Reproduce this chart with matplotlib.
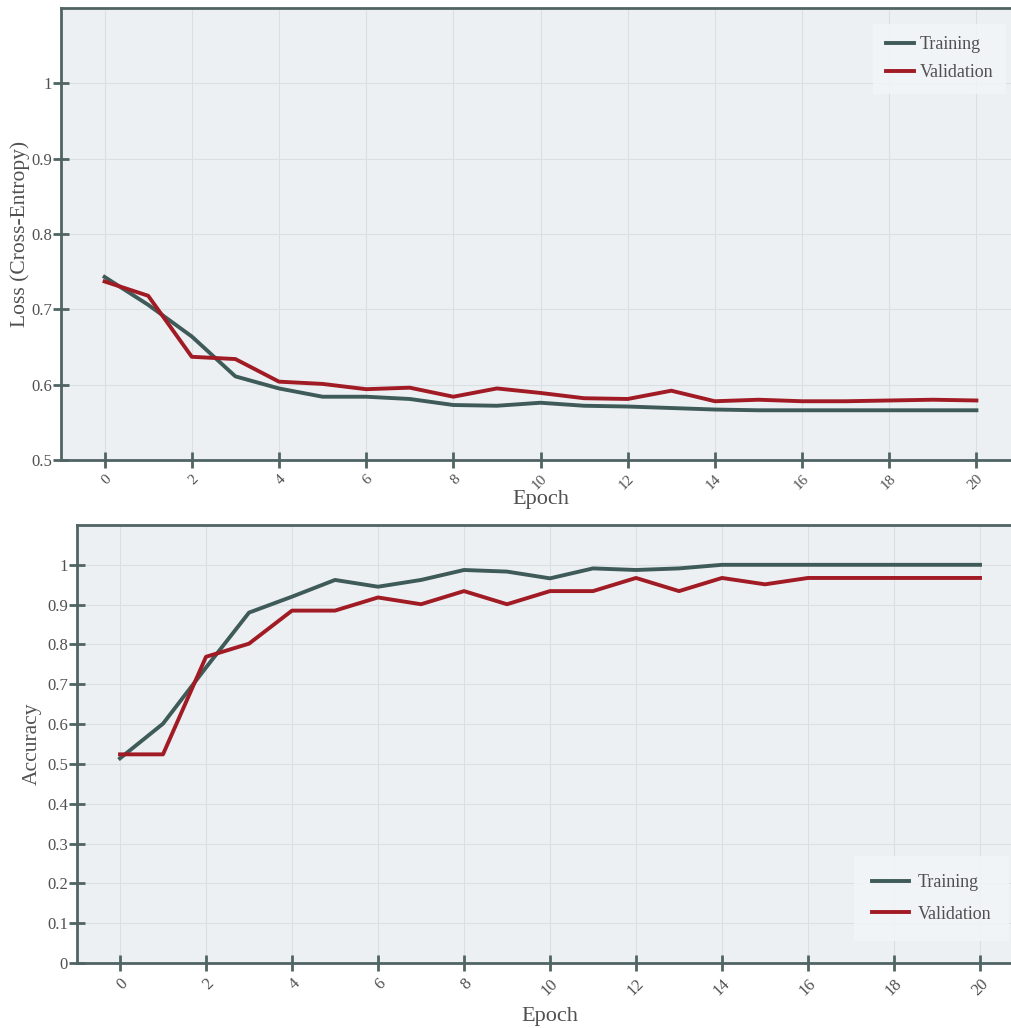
import matplotlib.pyplot as plt

epochs = list(range(21))

loss_train = [0.743, 0.706, 0.664, 0.611, 0.595, 0.584, 0.584, 0.581, 0.573, 0.572, 0.576,
              0.572, 0.571, 0.569, 0.567, 0.566, 0.566, 0.566, 0.566, 0.566, 0.566]
loss_val = [0.737, 0.718, 0.637, 0.634, 0.604, 0.601, 0.594, 0.596, 0.584, 0.595, 0.589,
            0.582, 0.581, 0.592, 0.578, 0.580, 0.578, 0.578, 0.579, 0.580, 0.579]

acc_train = [0.514, 0.601, 0.742, 0.880, 0.920, 0.962, 0.945, 0.962, 0.987, 0.983, 0.966,
             0.991, 0.987, 0.991, 1.0, 1.0, 1.0, 1.0, 1.0, 1.0, 1.0]
acc_val = [0.524, 0.524, 0.769, 0.802, 0.885, 0.885, 0.918, 0.901, 0.934, 0.901, 0.934,
           0.934, 0.967, 0.934, 0.967, 0.951, 0.967, 0.967, 0.967, 0.967, 0.967]

loss_ticks = [0.5, 0.6, 0.7, 0.8, 0.9, 1.0]
loss_labels = ['0.5', '0.6', '0.7', '0.8', '0.9', '1']
acc_ticks = [0, 0.1, 0.2, 0.3, 0.4, 0.5, 0.6, 0.7, 0.8, 0.9, 1.0]
acc_labels = ['0', '0.1', '0.2', '0.3', '0.4', '0.5', '0.6', '0.7', '0.8', '0.9', '1']
x_ticks = list(range(0, 21, 2))

plt.rcParams['font.family'] = ['Liberation Serif', 'DejaVu Serif']

c_train = '#3f5b59'
c_val = '#a11b25'
c_spine = '#4f6463'
c_text = '#505050'
bg = '#edf0f3'

W, H = 1011, 1028
fig = plt.figure(figsize=(W / 100, H / 100), dpi=100)
ax1 = fig.add_axes([61 / W, 1 - 460 / H, (1020 - 61) / W, (460 - 8) / H])
ax2 = fig.add_axes([77 / W, 1 - 963 / H, (1023 - 77) / W, (963 - 525) / H])


def style(ax, yt, yl, ylim, ylabel, xpad, ypad, xfs):
    ax.set_facecolor(bg)
    ax.set_xlim(-1, 21)
    ax.set_ylim(*ylim)
    ax.set_xticks(x_ticks)
    ax.set_xticklabels([str(t) for t in x_ticks], rotation=45, ha='right',
                       rotation_mode='anchor', fontsize=xfs, color=c_text)
    ax.set_yticks(yt)
    ax.set_yticklabels(yl, fontsize=12, color=c_text)
    ax.tick_params(axis='x', direction='inout', length=12, width=2, color=c_spine, pad=3)
    ax.tick_params(axis='y', direction='inout', length=11, width=2, color=c_spine, pad=1)
    ax.grid(color='#d9dfe3', linewidth=0.8)
    ax.set_axisbelow(True)
    for s in ax.spines.values():
        s.set_color(c_spine)
        s.set_linewidth(2)
    ax.set_xlabel('Epoch', fontsize=16, color=c_text, labelpad=xpad)
    ax.set_ylabel(ylabel, fontsize=15.5, color=c_text, labelpad=ypad)


ax1.plot(epochs, loss_train, color=c_train, linewidth=2.8, label='Training')
ax1.plot(epochs, loss_val, color=c_val, linewidth=2.8, label='Validation')
style(ax1, loss_ticks, loss_labels, (0.5, 1.1), 'Loss (Cross-Entropy)', -2, 1, 11)
leg1 = ax1.legend(loc='upper right', bbox_to_anchor=(0.995, 0.985), fontsize=13,
                  frameon=True, fancybox=False, handlelength=1.6, handletextpad=0.3,
                  labelspacing=0.6, borderpad=0.7)
leg1.get_frame().set_facecolor('#f3f6f8')
leg1.get_frame().set_edgecolor('none')
for t in leg1.get_texts():
    t.set_color(c_text)

ax2.plot(epochs, acc_train, color=c_train, linewidth=2.8, label='Training')
ax2.plot(epochs, acc_val, color=c_val, linewidth=2.8, label='Validation')
style(ax2, acc_ticks, acc_labels, (0, 1.1), 'Accuracy', 6, 4, 12)
leg2 = ax2.legend(loc='lower right', bbox_to_anchor=(0.995, 0.03), fontsize=13,
                  frameon=True, fancybox=False, handlelength=2.0, handletextpad=0.5,
                  labelspacing=0.8, borderpad=1.0)
leg2.get_frame().set_facecolor('#f3f6f8')
leg2.get_frame().set_edgecolor('none')
for t in leg2.get_texts():
    t.set_color(c_text)

fig.savefig('out.png', dpi=100, facecolor='white')
